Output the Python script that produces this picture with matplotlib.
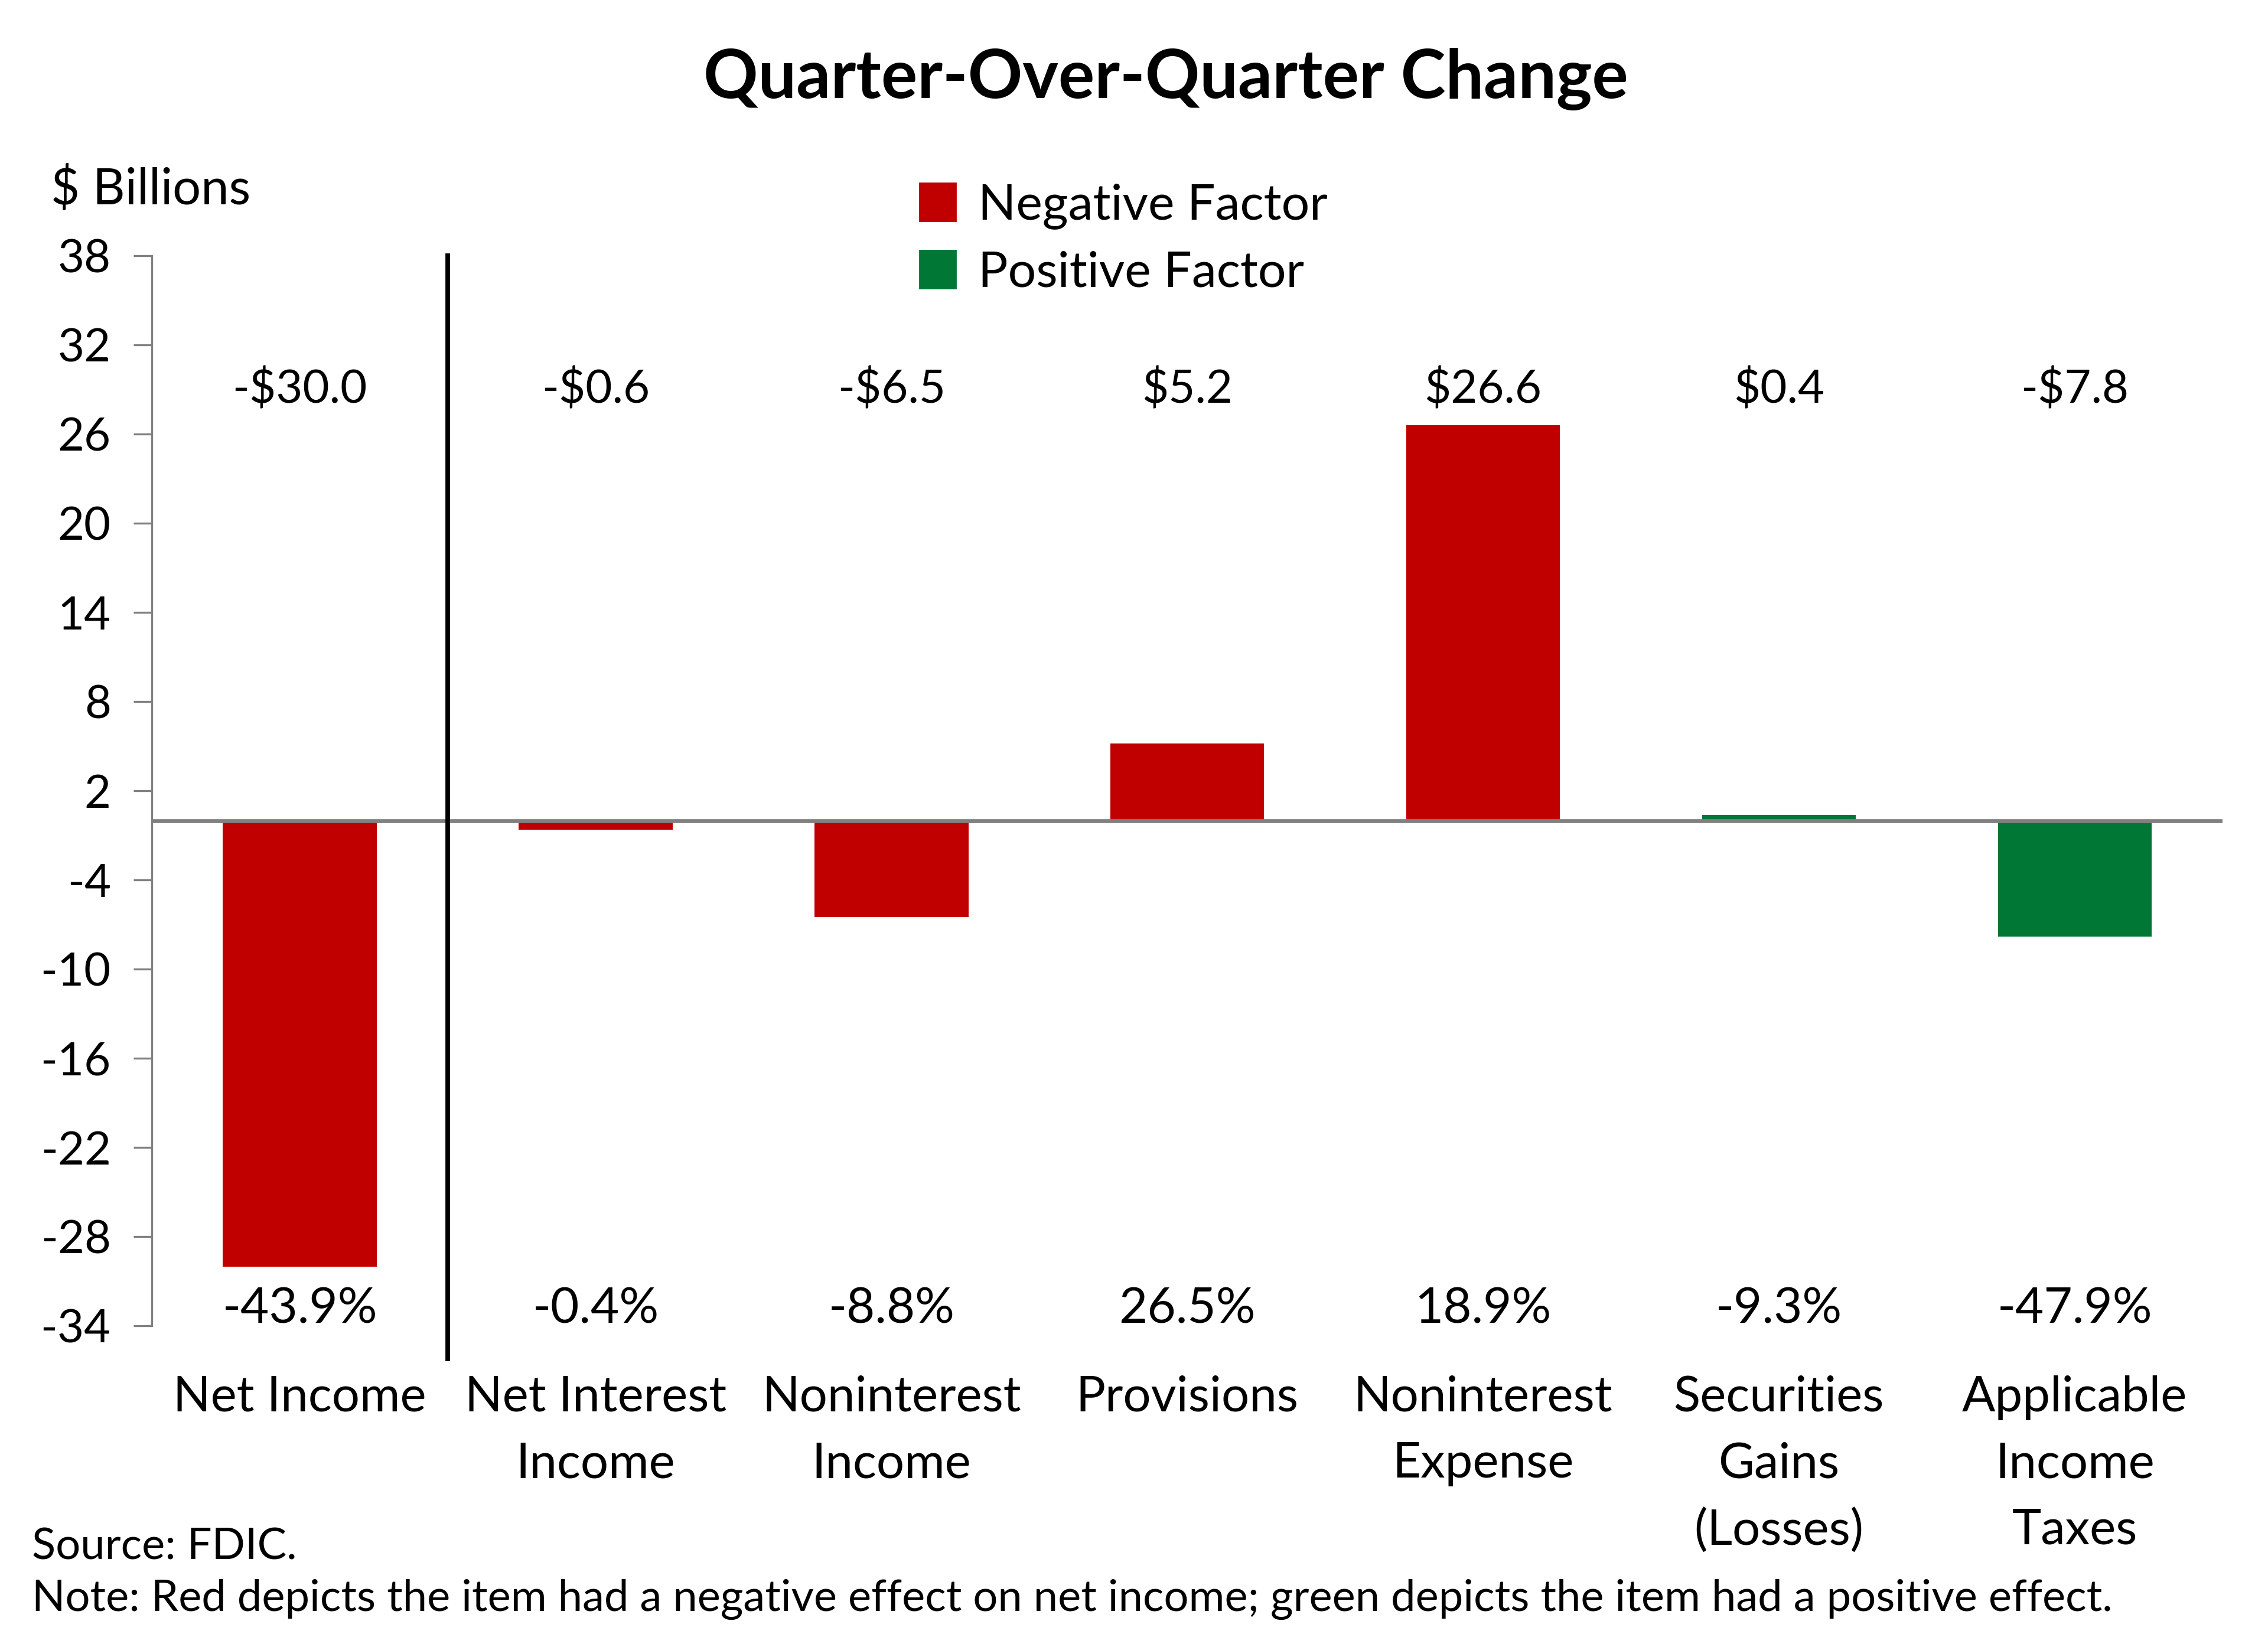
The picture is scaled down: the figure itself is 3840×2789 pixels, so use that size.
"""Quarter-over-quarter change in net income components."""
import matplotlib
import matplotlib.patches as mpatches
import matplotlib.pyplot as plt
import numpy as np

matplotlib.use("Agg")

plt.rcParams["font.family"] = ["Lato", "DejaVu Sans"]

categories = [
    "Net Income",
    "Net Interest\nIncome",
    "Noninterest\nIncome",
    "Provisions",
    "Noninterest\nExpense",
    "Securities\nGains\n(Losses)",
    "Applicable\nIncome\nTaxes",
]
bar_values = [-30.0, -0.6, -6.5, 5.2, 26.6, 0.4, -7.8]
dollar_labels = ["-$30.0", "-$0.6", "-$6.5", "$5.2", "$26.6", "$0.4", "-$7.8"]
pct_labels = ["-43.9%", "-0.4%", "-8.8%", "26.5%", "18.9%", "-9.3%", "-47.9%"]
effect = ["neg", "neg", "neg", "neg", "neg", "pos", "pos"]
y_ticks = [38, 32, 26, 20, 14, 8, 2, -4, -10, -16, -22, -28, -34]

RED = "#C00000"
GREEN = "#007734"
GRAY = "#808080"

fig = plt.figure(figsize=(19.2, 13.945), dpi=200)
ax = fig.add_axes([0.067, 0.1949, 0.913, 0.6497])

x = np.arange(len(categories))
colors = [RED if e == "neg" else GREEN for e in effect]
ax.bar(x, bar_values, width=0.52, color=colors, zorder=2)
ax.axhline(0, color=GRAY, lw=2.4, zorder=3)

# divider between net income and its components
ax.plot([0.5, 0.5], [38, -36.2], color="black", lw=2.8, clip_on=False, zorder=4)

for xi, lab in zip(x, dollar_labels):
    ax.text(xi, 29.0, lab, ha="center", va="center", fontsize=28)
for xi, lab in zip(x, pct_labels):
    ax.text(xi, -32.9, lab, ha="center", va="center", fontsize=30)

ax.set_xlim(-0.5, 6.5)
ax.set_ylim(-34, 38)
ax.set_yticks(y_ticks)
ax.set_yticklabels([str(t) for t in y_ticks], fontsize=28)
ax.set_xticks(x)
ax.set_xticklabels(categories, fontsize=30, linespacing=1.6)
ax.tick_params(axis="x", length=0, pad=30)
ax.tick_params(axis="y", length=11, width=1.2, color=GRAY, pad=14)

for side in ["top", "right", "bottom"]:
    ax.spines[side].set_visible(False)
ax.spines["left"].set_color(GRAY)
ax.spines["left"].set_linewidth(1.2)

fig.text(0.514, 0.952, "Quarter-Over-Quarter Change", ha="center", va="center",
         fontsize=41.3, fontweight="bold")
fig.text(0.0223, 0.885, "$ Billions", ha="left", va="center", fontsize=30.5)

handles = [
    mpatches.Patch(color=RED, label="Negative Factor"),
    mpatches.Patch(color=GREEN, label="Positive Factor"),
]
fig.legend(handles=handles, loc="upper left", bbox_to_anchor=(0.388, 0.913),
           frameon=False, fontsize=30.3, handlelength=0.72, handleheight=0.8,
           handletextpad=0.45, labelspacing=0.42, borderpad=0.3)

fig.text(0.014, 0.0606, "Source: FDIC.", ha="left", va="center", fontsize=26.7)
fig.text(0.014, 0.029,
         "Note: Red depicts the item had a negative effect on net income; "
         "green depicts the item had a positive effect.",
         ha="left", va="center", fontsize=26.7)

fig.savefig("out.png", dpi=200)
